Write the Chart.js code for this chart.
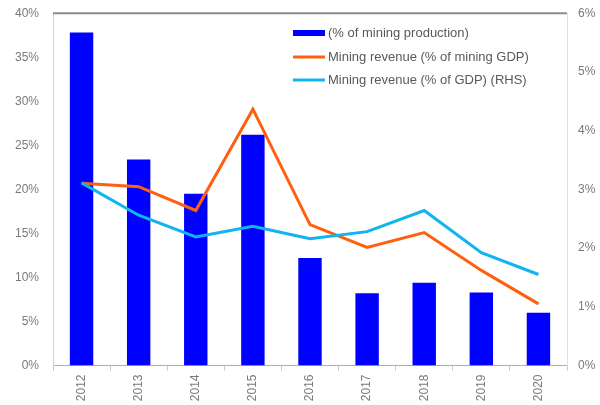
<!DOCTYPE html>
<html>
<head>
<meta charset="utf-8">
<script src="https://cdn.jsdelivr.net/npm/chart.js@4/dist/chart.umd.min.js"></script>
<style>
html,body{margin:0;padding:0;background:#fff;}
#wrap{position:relative;width:600px;height:405px;}
</style>
</head>
<body>
<div id="wrap"><canvas id="c" width="600" height="405"></canvas></div>
<script>
const years = ['2012','2013','2014','2015','2016','2017','2018','2019','2020'];
const miningProductionShare = [37.8, 23.4, 19.5, 26.2, 12.2, 8.2, 9.4, 8.3, 6.0];
const revenueMiningGdp = [20.7, 20.3, 17.6, 29.1, 16.0, 13.4, 15.1, 10.8, 7.0];
const revenueGdpRhs = [3.11, 2.56, 2.19, 2.37, 2.16, 2.28, 2.64, 1.92, 1.55];
const leftTicks = [0, 5, 10, 15, 20, 25, 30, 35, 40];
const rightTicks = [0, 1, 2, 3, 4, 5, 6];

const FONT = 'Liberation Sans';
const TICK_COLOR = '#7a7a7a';

const legendPlugin = {
  id: 'innerLegend',
  afterDatasetsDraw(chart) {
    const ctx = chart.ctx;
    const x0 = 293, x1 = 325, tx = 328;
    const ys = [33, 57, 80];
    ctx.save();
    ctx.font = '13px ' + FONT;
    ctx.textBaseline = 'middle';
    chart.data.datasets.forEach((ds, i) => {
      const y = ys[i];
      if (ds.type === 'bar') {
        ctx.fillStyle = ds.backgroundColor;
        ctx.fillRect(x0, y - 3, x1 - x0, 6);
      } else {
        ctx.strokeStyle = ds.borderColor;
        ctx.lineWidth = 3;
        ctx.beginPath();
        ctx.moveTo(x0, y);
        ctx.lineTo(x1, y);
        ctx.stroke();
      }
      ctx.fillStyle = '#595959';
      ctx.fillText(ds.label, tx, y);
    });
    ctx.restore();
  },
  afterDraw(chart) {
    const a = chart.chartArea;
    const ctx = chart.ctx;
    ctx.save();
    ctx.strokeStyle = '#8c8c8c';
    ctx.lineWidth = 2;
    ctx.beginPath();
    ctx.moveTo(a.left, a.top);
    ctx.lineTo(a.right, a.top);
    ctx.stroke();
    ctx.restore();
  }
};

new Chart(document.getElementById('c'), {
  data: {
    labels: years,
    datasets: [
      {
        type: 'bar',
        label: '(% of mining production)',
        data: miningProductionShare,
        backgroundColor: '#0000FF',
        borderWidth: 0,
        barPercentage: 0.41,
        categoryPercentage: 1.0,
        yAxisID: 'y',
        order: 3
      },
      {
        type: 'line',
        label: 'Mining revenue (% of mining GDP)',
        data: revenueMiningGdp,
        borderColor: '#FF6010',
        backgroundColor: '#FF6010',
        borderWidth: 3,
        pointRadius: 0,
        tension: 0,
        yAxisID: 'y',
        order: 2
      },
      {
        type: 'line',
        label: 'Mining revenue (% of GDP) (RHS)',
        data: revenueGdpRhs,
        borderColor: '#10B4F0',
        backgroundColor: '#10B4F0',
        borderWidth: 3,
        pointRadius: 0,
        tension: 0,
        yAxisID: 'y1',
        order: 1
      }
    ]
  },
  options: {
    responsive: false,
    animation: false,
    layout: { padding: { top: 5, right: 0, left: 0, bottom: 0 } },
    plugins: {
      legend: { display: false },
      tooltip: { enabled: false }
    },
    scales: {
      x: {
        offset: true,
        grid: {
          offset: true,
          drawOnChartArea: false,
          drawTicks: true,
          tickLength: 5,
          color: '#c8c8c8'
        },
        border: { color: '#b0b0b0', width: 1 },
        ticks: {
          color: TICK_COLOR,
          font: { family: FONT, size: 12 },
          maxRotation: 90,
          minRotation: 90,
          padding: 4
        },
        afterFit(s) { s.height = 39.5; }
      },
      y: {
        position: 'left',
        min: 0,
        max: 40,
        afterBuildTicks(s) { s.ticks = leftTicks.map(v => ({ value: v })); },
        grid: { display: false },
        border: { color: '#d0d0d0', width: 1 },
        ticks: {
          color: TICK_COLOR,
          font: { family: FONT, size: 12 },
          padding: 6,
          callback: v => v + '%'
        },
        afterFit(s) { s.width = 53; }
      },
      y1: {
        position: 'right',
        min: 0,
        max: 6,
        afterBuildTicks(s) { s.ticks = rightTicks.map(v => ({ value: v })); },
        grid: { display: false },
        border: { color: '#e0e0e0', width: 1 },
        ticks: {
          color: TICK_COLOR,
          font: { family: FONT, size: 12 },
          padding: 3,
          callback: v => v + '%'
        },
        afterFit(s) { s.width = 33; }
      }
    }
  },
  plugins: [legendPlugin]
});
</script>
</body>
</html>
